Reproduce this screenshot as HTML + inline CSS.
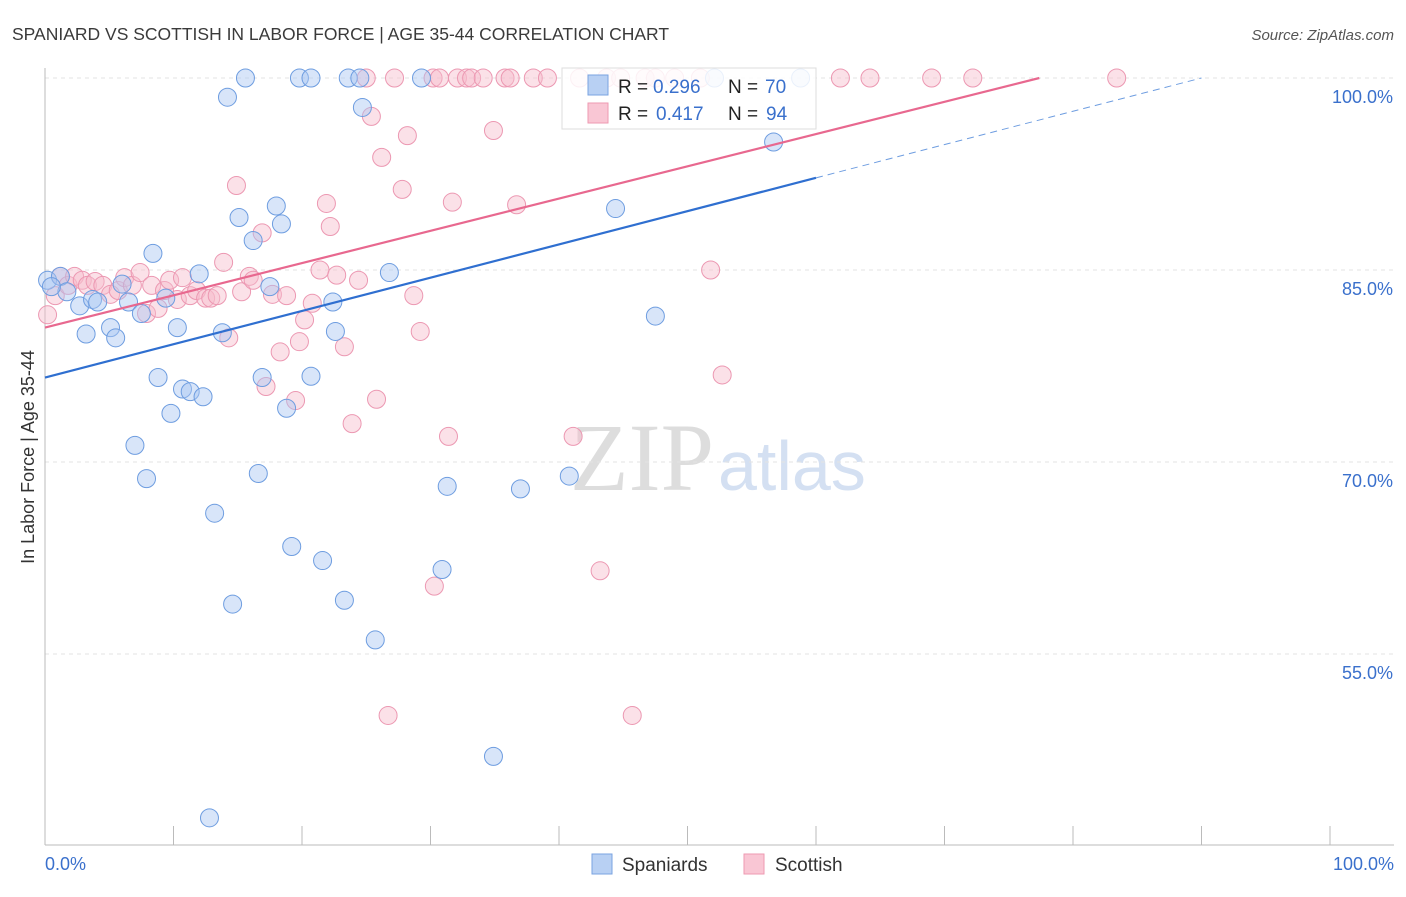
<!DOCTYPE html>
<html><head><meta charset="utf-8"><style>
body{margin:0;background:#fff;font-family:"Liberation Sans",sans-serif}
</style></head><body>
<svg id="c" width="1406" height="892" xmlns="http://www.w3.org/2000/svg" font-family="Liberation Sans, sans-serif">
<text x="12" y="40" font-size="17.5" fill="#3a3a3a">SPANIARD VS SCOTTISH IN LABOR FORCE | AGE 35-44 CORRELATION CHART</text>
<text x="1394" y="40" font-size="15" fill="#555" font-style="italic" text-anchor="end">Source: ZipAtlas.com</text>
<text x="714" y="490" font-size="96" fill="#ddd" text-anchor="end" font-family="Liberation Serif, serif">ZIP</text>
<text x="718" y="490" font-size="70" fill="#d4e0f2">atlas</text>
<g id="grid"></g><g id="axes"></g><g id="pts"></g><g id="lines"></g>
<text x="34" y="457" font-size="18" fill="#333" transform="rotate(-90 34 457)" text-anchor="middle">In Labor Force | Age 35-44</text>
<g>
<rect x="562" y="68" width="254" height="61" fill="#fff" fill-opacity="0.85" stroke="#ddd"/>
<rect x="588" y="75" width="20" height="20" fill="#b8d0f3" stroke="#7aa3e0"/>
<rect x="588" y="103" width="20" height="20" fill="#f9c6d4" stroke="#ee9ab2"/>
<text x="618" y="93" font-size="19" fill="#222">R =</text>
<text x="653" y="93" font-size="19" fill="#3a70cc">0.296</text>
<text x="728" y="93" font-size="19" fill="#222">N =</text>
<text x="765" y="93" font-size="19" fill="#3a70cc">70</text>
<text x="618" y="120" font-size="19" fill="#222">R =</text>
<text x="656" y="120" font-size="19" fill="#3a70cc">0.417</text>
<text x="728" y="120" font-size="19" fill="#222">N =</text>
<text x="766" y="120" font-size="19" fill="#3a70cc">94</text>
</g>
<g>
<rect x="592" y="854" width="20" height="20" fill="#b8d0f3" stroke="#7aa3e0"/>
<text x="622" y="871" font-size="19" fill="#333">Spaniards</text>
<rect x="744" y="854" width="20" height="20" fill="#f9c6d4" stroke="#ee9ab2"/>
<text x="775" y="871" font-size="19" fill="#333">Scottish</text>
</g>
</svg>
<script>
const yTicks=[100,85,70,55];
const yTickLabels=["100.0%","85.0%","70.0%","55.0%"];
const xTickLabels=["0.0%","100.0%"];
const blueX=[0.2,1.2,1.7,0.5,2.7,3.2,3.7,4.1,5.1,5.5,6.0,6.5,7.0,7.5,7.9,8.4,8.8,9.4,9.8,10.3,10.7,11.3,12.0,12.3,13.2,13.8,14.2,14.6,15.1,15.6,16.2,16.9,16.6,17.5,18.0,18.4,18.8,19.2,19.8,20.7,20.7,21.6,22.4,22.6,23.3,23.6,24.5,24.7,25.7,26.8,29.3,31.3,30.9,34.9,37.0,40.8,44.4,47.5,52.1,56.7,58.8,12.8];
const blueY=[84.2,84.5,83.3,83.7,82.2,80.0,82.7,82.5,80.5,79.7,83.9,82.5,71.3,81.6,68.7,86.3,76.6,82.8,73.8,80.5,75.7,75.5,84.7,75.1,66.0,80.1,98.5,58.9,89.1,100,87.3,76.6,69.1,83.7,90.0,88.6,74.2,63.4,100,100,76.7,62.3,82.5,80.2,59.2,100,100,97.7,56.1,84.8,100,68.1,61.6,47.0,67.9,68.9,89.8,81.4,100,95.0,100,42.2];
const pinkX=[0.2,0.8,1.2,1.8,2.3,2.9,3.3,3.9,4.5,5.1,5.7,6.2,6.8,7.4,7.9,8.3,8.8,9.3,9.7,10.3,10.7,11.3,11.8,12.5,12.9,13.4,13.9,14.3,14.9,15.3,15.9,16.2,16.9,17.2,17.7,18.3,18.8,19.5,19.8,20.2,20.8,21.4,21.9,22.2,22.7,23.3,23.9,24.4,25.0,25.4,25.8,26.2,27.2,27.8,28.2,28.7,29.2,26.7,30.2,30.7,31.4,31.7,32.1,32.8,33.2,34.1,34.9,35.8,36.2,36.7,38.0,39.1,41.1,41.6,43.2,43.7,44.8,45.7,46.7,47.5,49.0,51.0,51.8,52.7,61.9,64.2,69.0,72.2,83.4,30.3];
const pinkY=[81.5,83.0,84.5,83.8,84.5,84.2,83.8,84.1,83.8,83.1,83.4,84.4,83.8,84.8,81.6,83.8,82.0,83.4,84.2,82.7,84.4,83.0,83.4,82.8,82.8,83.0,85.6,79.7,91.6,83.3,84.5,84.2,87.9,75.9,83.1,78.6,83.0,74.8,79.4,81.1,82.4,85.0,90.2,88.4,84.6,79.0,73.0,84.2,100,97.0,74.9,93.8,100,91.3,95.5,83.0,80.2,50.2,100,100,72.0,90.3,100,100,100,100,95.9,100,100,90.1,100,100,72.0,100,61.5,100,100,50.2,100,100,100,100,85.0,76.8,100,100,100,100,100,60.3];
const blueLine=[76.6,0.26], pinkLine=[80.5,0.252];
const NS="http://www.w3.org/2000/svg";
const X=v=>45+v*12.85, Y=v=>78+(100-v)*12.8;
function mk(t,a,p){const e=document.createElementNS(NS,t);for(const k in a)e.setAttribute(k,a[k]);document.getElementById(p).appendChild(e);return e;}
yTicks.forEach((t,i)=>{
 const g=mk('line',{x1:45,x2:1394,y1:Y(t),y2:Y(t),stroke:'#e3e3e3','stroke-dasharray':'4 4'},'grid');
 
 
 const l=mk('text',{x:1393,y:Y(t)+25,'font-size':18,fill:'#3a70cc','text-anchor':'end'},'axes');l.textContent=yTickLabels[i];
 
 
});
const ax=mk('line',{x1:45,x2:45,y1:68,y2:845,stroke:'#bbb'},'axes');


const bx=mk('line',{x1:45,x2:1394,y1:845,y2:845,stroke:'#bbb'},'axes');


for(let i=0;i<=10;i++){const t=mk('line',{x1:X(i*10),x2:X(i*10),y1:826,y2:845,stroke:'#bbb'},'axes');
 
 }
[[0,'start',X(0)],[1,'end',1394]].forEach(([i,a,x])=>{const l=mk('text',{x:x,y:870,'font-size':18,fill:'#3a70cc','text-anchor':a},'axes');l.textContent=xTickLabels[i];
 
 });
function pts(xs,ys,fill,stroke,name){xs.forEach((x,i)=>{const c=mk('circle',{cx:X(x),cy:Y(ys[i]),r:9,fill:fill,'fill-opacity':0.45,stroke:stroke,'stroke-width':1},'pts');
 
 });}
pts(pinkX,pinkY,'#f7bccd','#ec98b2','scottish-point');
pts(blueX,blueY,'#a9c6f1','#6e9de0','spaniard-point');
const bl=mk('line',{x1:X(0),y1:Y(blueLine[0]),x2:X(60),y2:Y(blueLine[0]+60*blueLine[1]),stroke:'#2f6fd0','stroke-width':2.2},'lines');


const xe=(100-blueLine[0])/blueLine[1];
const bd=mk('line',{x1:X(60),y1:Y(blueLine[0]+60*blueLine[1]),x2:X(xe),y2:Y(100),stroke:'#6e9de0','stroke-width':1,'stroke-dasharray':'7 5'},'lines');


const pe=(100-pinkLine[0])/pinkLine[1];
const pl=mk('line',{x1:X(0),y1:Y(pinkLine[0]),x2:X(pe),y2:Y(100),stroke:'#e8688f','stroke-width':2.2},'lines');


</script>
</body></html>
